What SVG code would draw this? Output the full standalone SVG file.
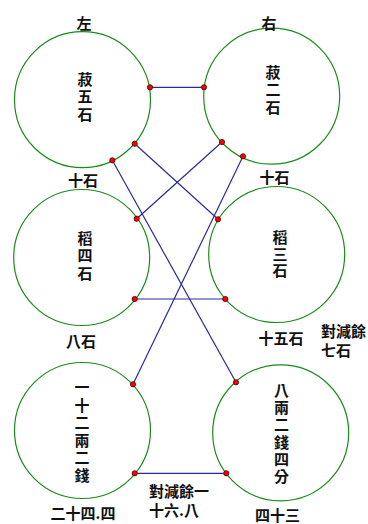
<svg xmlns="http://www.w3.org/2000/svg" width="368" height="524" viewBox="0 0 368 524">
<style>
.c{fill:none;stroke:#1a8a1a;stroke-width:1.2}
.l{stroke:#2a2a9a;stroke-width:1.2;fill:none}
.d{fill:#ff0000;stroke:#400000;stroke-width:0.8}
text{font-family:"Noto Sans CJK TC","Noto Sans CJK SC",sans-serif;font-size:15px;font-weight:bold;fill:#111}
.m{text-anchor:middle}
</style>
<rect width="368" height="524" fill="#fff"/>
<g id="connectors">
<line class="l" x1="150" y1="87.3" x2="204" y2="87.3"/>
<line class="l" x1="112.3" y1="160.3" x2="236" y2="382.3"/>
<line class="l" x1="134.7" y1="143.7" x2="218" y2="219.3"/>
<line class="l" x1="222" y1="142" x2="136.7" y2="218.7"/>
<line class="l" x1="243" y1="156.3" x2="133" y2="384.3"/>
<line class="l" x1="134.7" y1="299" x2="225.3" y2="299"/>
<line class="l" x1="134.7" y1="473.3" x2="226.3" y2="473.3"/>
</g>
<g id="n1">
<circle class="c" cx="82.5" cy="99.7" r="68"/>
<text class="m" x="85" y="84.5">菽<tspan x="85" dy="17.5">五</tspan><tspan x="85" dy="17.5">石</tspan></text>
<text class="m" x="84" y="29">左</text>
<text class="m" x="83" y="185.5">十石</text>
</g>
<g id="n2">
<circle class="c" cx="271.7" cy="96.2" r="68"/>
<text class="m" x="273" y="77.5">菽<tspan x="273" dy="17.5">二</tspan><tspan x="273" dy="17.5">石</tspan></text>
<text class="m" x="269" y="28.5">右</text>
<text class="m" x="274.5" y="182.5">十石</text>
</g>
<g id="n3">
<circle class="c" cx="81.7" cy="257.5" r="68"/>
<text class="m" x="85" y="244">稻<tspan x="85" dy="17.3">四</tspan><tspan x="85" dy="17.2">石</tspan></text>
<text class="m" x="81" y="347">八石</text>
</g>
<g id="n4">
<circle class="c" cx="276.7" cy="254.5" r="68"/>
<text class="m" x="280" y="242.8">稻<tspan x="280" dy="16.7">三</tspan><tspan x="280" dy="16.5">石</tspan></text>
<text class="m" x="281" y="344">十五石</text>
<text x="321" y="337">對減餘<tspan x="321" dy="18.5">七石</tspan></text>
</g>
<g id="n5">
<circle class="c" cx="82.5" cy="430.5" r="68"/>
<text class="m" x="82" y="393">一<tspan x="82" dy="17.5">十</tspan><tspan x="82" dy="17.5">二</tspan><tspan x="82" dy="17.5">兩</tspan><tspan x="82" dy="17.5">二</tspan><tspan x="82" dy="17.5">錢</tspan></text>
<text class="m" x="83" y="519">二十四.四</text>
</g>
<g id="n6">
<circle class="c" cx="280.7" cy="432.8" r="68"/>
<text class="m" x="281.5" y="395.5">八<tspan x="281.5" dy="17.5">兩</tspan><tspan x="281.5" dy="17.3">二</tspan><tspan x="281.5" dy="17.3">錢</tspan><tspan x="281.5" dy="17.4">四</tspan><tspan x="281.5" dy="17">分</tspan></text>
<text class="m" x="277.5" y="521">四十三</text>
<text x="149" y="497">對減餘一<tspan x="149" dy="18.5">十六.八</tspan></text>
</g>
<g id="dots">
<circle class="d" cx="150" cy="87.3" r="2.6"/>
<circle class="d" cx="204" cy="87.3" r="2.6"/>
<circle class="d" cx="134.7" cy="143.7" r="2.6"/>
<circle class="d" cx="112.3" cy="160.3" r="2.6"/>
<circle class="d" cx="222" cy="142" r="2.6"/>
<circle class="d" cx="243" cy="156.3" r="2.6"/>
<circle class="d" cx="136.7" cy="218.7" r="2.6"/>
<circle class="d" cx="134.7" cy="299" r="2.6"/>
<circle class="d" cx="218" cy="219.3" r="2.6"/>
<circle class="d" cx="225.3" cy="299" r="2.6"/>
<circle class="d" cx="133" cy="384.3" r="2.6"/>
<circle class="d" cx="134.7" cy="473.3" r="2.6"/>
<circle class="d" cx="236" cy="382.3" r="2.6"/>
<circle class="d" cx="226.3" cy="473.3" r="2.6"/>
</g>
</svg>
